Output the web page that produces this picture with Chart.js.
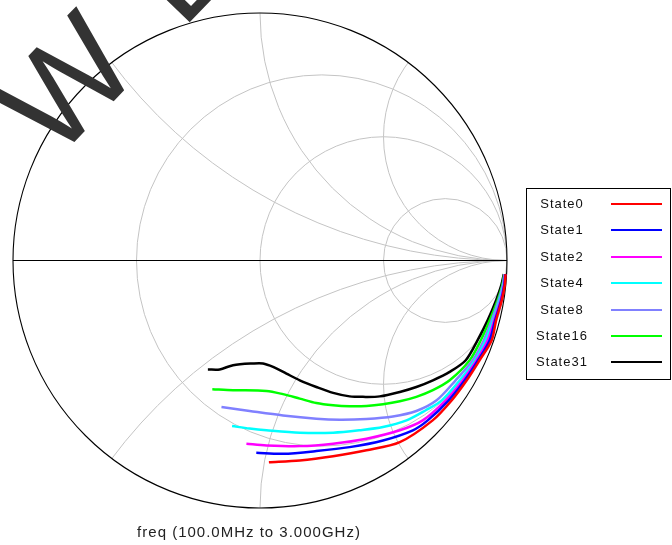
<!DOCTYPE html>
<html>
<head>
<meta charset="utf-8">
<script src="https://cdn.jsdelivr.net/npm/chart.js@4.4.1/dist/chart.umd.min.js"></script>
<style>
  html, body { margin: 0; padding: 0; background: #fff; }
  #wrap { width: 672px; height: 545px; }
</style>
</head>
<body>
<div id="wrap"><canvas id="smith" width="672" height="545"></canvas></div>
<script>
// Smith chart - S11 of each attenuator state, 100 MHz to 3 GHz
// values are reflection coefficient [real, imag]
// =====================================================

const state0 = [[0.036,-0.815],[0.161,-0.808],[0.296,-0.791],[0.431,-0.767],[0.566,-0.734],[0.699,-0.646],[0.776,-0.565],[0.837,-0.484],[0.889,-0.403],[0.938,-0.322],[0.956,-0.241],[0.979,-0.160],[0.991,-0.099],[0.994,-0.055]];
const state1 = [[-0.015,-0.777],[0.093,-0.781],[0.228,-0.770],[0.363,-0.754],[0.498,-0.727],[0.619,-0.686],[0.679,-0.646],[0.764,-0.565],[0.829,-0.484],[0.883,-0.403],[0.930,-0.322],[0.952,-0.241],[0.977,-0.160],[0.989,-0.099],[0.993,-0.055]];
const state2 = [[-0.055,-0.740],[0.026,-0.747],[0.161,-0.750],[0.296,-0.740],[0.431,-0.720],[0.566,-0.686],[0.659,-0.646],[0.752,-0.565],[0.821,-0.484],[0.877,-0.403],[0.922,-0.322],[0.948,-0.241],[0.974,-0.160],[0.988,-0.099],[0.992,-0.055]];
const state4 = [[-0.113,-0.669],[-0.042,-0.679],[0.026,-0.686],[0.161,-0.696],[0.296,-0.696],[0.404,-0.686],[0.498,-0.673],[0.593,-0.646],[0.671,-0.605],[0.736,-0.565],[0.809,-0.484],[0.871,-0.403],[0.914,-0.322],[0.944,-0.241],[0.970,-0.160],[0.986,-0.099],[0.992,-0.055]];
const state8 = [[-0.156,-0.592],[-0.042,-0.608],[0.093,-0.626],[0.228,-0.639],[0.323,-0.643],[0.431,-0.640],[0.538,-0.630],[0.633,-0.608],[0.715,-0.565],[0.792,-0.484],[0.861,-0.403],[0.906,-0.322],[0.938,-0.241],[0.966,-0.160],[0.983,-0.099],[0.990,-0.055]];
const state16 = [[-0.193,-0.520],[-0.109,-0.524],[0.026,-0.527],[0.093,-0.540],[0.161,-0.558],[0.228,-0.576],[0.296,-0.585],[0.363,-0.589],[0.431,-0.588],[0.498,-0.581],[0.566,-0.569],[0.633,-0.551],[0.700,-0.524],[0.768,-0.484],[0.849,-0.403],[0.894,-0.322],[0.930,-0.241],[0.962,-0.160],[0.981,-0.099],[0.989,-0.055]];
const state31 = [[-0.211,-0.440],[-0.163,-0.440],[-0.109,-0.423],[-0.028,-0.416],[0.012,-0.416],[0.053,-0.430],[0.107,-0.457],[0.161,-0.484],[0.228,-0.511],[0.296,-0.535],[0.363,-0.549],[0.417,-0.551],[0.485,-0.549],[0.566,-0.531],[0.633,-0.511],[0.700,-0.484],[0.768,-0.450],[0.833,-0.403],[0.881,-0.322],[0.922,-0.241],[0.956,-0.160],[0.977,-0.099],[0.987,-0.055]];

const stateLabels = ['State0', 'State1', 'State2', 'State4', 'State8', 'State16', 'State31'];
const stateSeries = [state0, state1, state2, state4, state8, state16, state31];

// Smith grid: constant resistance circles and constant reactance arcs
const resistanceCircles = [1 / 3, 1, 3];
const reactanceArcs = [0.5, 1, 2];

const freqLabel = 'freq (100.0MHz to 3.000GHz)';
const watermarkLetters = ['W', 'E'];

const stateColors = ['#ff0000', '#0000ff', '#ff00ff', '#00ffff', '#8080ff', '#00ff00', '#000000'];

// Draw the grid under the traces
const smithGrid = {
  id: 'smithGrid',
  beforeDatasetsDraw(chart) {
    const { ctx, scales: { x, y } } = chart;
    const px = v => x.getPixelForValue(v);
    const py = v => y.getPixelForValue(v);
    const rx = px(1) - px(0);
    const ry = py(0) - py(1);
    const cx = px(0), cy = py(0);

    ctx.save();
    ctx.beginPath();
    ctx.ellipse(cx, cy, rx, ry, 0, 0, Math.PI * 2);
    ctx.clip();
    ctx.strokeStyle = '#c4c4c4';
    ctx.lineWidth = 1;

    resistanceCircles.forEach(r => {
      ctx.beginPath();
      ctx.ellipse(px(r / (1 + r)), cy, rx / (1 + r), ry / (1 + r), 0, 0, Math.PI * 2);
      ctx.stroke();
    });

    reactanceArcs.forEach(xv => {
      [xv, -xv].forEach(v => {
        ctx.beginPath();
        ctx.ellipse(px(1), py(1 / v), rx / Math.abs(v), ry / Math.abs(v), 0, 0, Math.PI * 2);
        ctx.stroke();
      });
    });
    ctx.restore();

    // real axis and unit circle
    ctx.save();
    ctx.strokeStyle = '#000';
    ctx.lineWidth = 1.1;
    ctx.beginPath();
    ctx.moveTo(px(-1), cy);
    ctx.lineTo(px(1), cy);
    ctx.stroke();
    ctx.beginPath();
    ctx.ellipse(cx, cy, rx, ry, 0, 0, Math.PI * 2);
    ctx.stroke();
    ctx.restore();
  }
};

// Legend box, frequency label and the watermark
const smithDecor = {
  id: 'smithDecor',
  afterDraw(chart) {
    const ctx = chart.ctx;
    ctx.save();
    ctx.strokeStyle = '#000';
    ctx.lineWidth = 1;
    ctx.strokeRect(526.5, 188.5, 144, 191);

    ctx.font = '13px "Liberation Sans", Arial, sans-serif';
    ctx.letterSpacing = '1px';
    ctx.fillStyle = '#111';
    ctx.textAlign = 'center';
    ctx.textBaseline = 'middle';
    chart.data.datasets.forEach((ds, i) => {
      const yy = Math.round(204 + i * 26.4);
      ctx.fillText(ds.label, 562, yy);
      ctx.strokeStyle = ds.borderColor;
      ctx.lineWidth = 2;
      ctx.beginPath();
      ctx.moveTo(611, yy);
      ctx.lineTo(662, yy);
      ctx.stroke();
    });

    ctx.font = '15px "Liberation Sans", Arial, sans-serif';
    ctx.fillStyle = '#222';
    ctx.fillText(freqLabel, 249, 533);
    ctx.restore();

    // big rotated watermark, only partly inside the picture
    ctx.save();
    ctx.translate(55, 162);
    ctx.rotate(-46 * Math.PI / 180);
    ctx.font = '135px "Liberation Sans", Arial, sans-serif';
    ctx.fillStyle = '#333';
    ctx.textAlign = 'left';
    ctx.textBaseline = 'alphabetic';
    ctx.fillText(watermarkLetters[0], 0, 0);
    ctx.fillText(watermarkLetters[1], 183, 0);
    ctx.restore();
  }
};

const datasets = stateSeries.map((series, i) => ({
  label: stateLabels[i],
  data: series.map(p => ({ x: p[0], y: p[1] })),
  borderColor: stateColors[i],
  backgroundColor: stateColors[i],
  borderWidth: 2.5,
  showLine: true,
  fill: false,
  tension: 0.3,
  pointRadius: 0
}));

new Chart(document.getElementById('smith'), {
  type: 'scatter',
  data: { datasets: datasets },
  options: {
    responsive: false,
    animation: false,
    layout: { padding: { left: 13, top: 13, right: 165, bottom: 37 } },
    plugins: {
      legend: { display: false },
      tooltip: { enabled: false }
    },
    scales: {
      x: { type: 'linear', min: -1, max: 1, display: false },
      y: { type: 'linear', min: -1, max: 1, display: false }
    }
  },
  plugins: [smithGrid, smithDecor]
});
</script>
</body>
</html>
